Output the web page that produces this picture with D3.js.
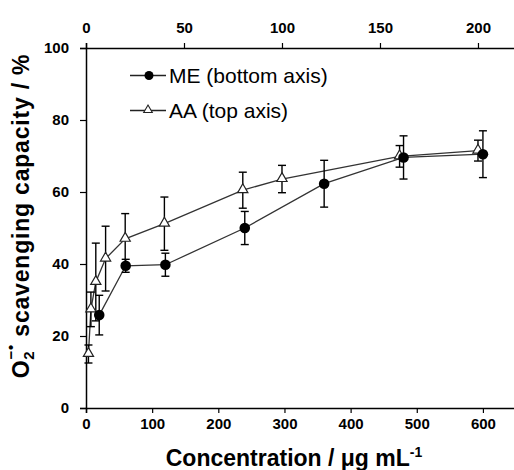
<!DOCTYPE html>
<html>
<head>
<meta charset="utf-8">
<script src="https://cdn.jsdelivr.net/npm/d3@7"></script>
<style>
  body { margin: 0; background: #fff; }
  svg { display: block; font-family: "Liberation Sans", Arial, sans-serif; }
</style>
</head>
<body>
<div id="chart"></div>
<script>
// ME (bottom axis, µg/mL)
const meConc = [20, 60, 120, 240, 360, 480, 600]
const meVal  = [25.8, 39.5, 39.8, 50.0, 62.3, 69.6, 70.5]
const meErr  = [5.5, 1.8, 3.2, 4.6, 6.5, 6.0, 6.5]

// AA (top axis)
const aaConc = [1.25, 2.5, 5, 10, 20, 40, 80, 100, 160, 200]
const aaVal  = [15.0, 27.4, 35.0, 41.5, 47.0, 51.2, 60.5, 63.6, 69.9, 71.5]
const aaErr  = [2.5, 4.8, 10.8, 9.0, 7.0, 7.4, 5.0, 3.8, 3.0, 2.9]

const bottomTicks = [0, 100, 200, 300, 400, 500, 600]
const topTicks = [0, 50, 100, 150, 200]
const yTicks = [0, 20, 40, 60, 80, 100]

const width = 514, height = 470
const mLeft = 86, mRight = 516, mTop = 48, mBottom = 408

const svg = d3.select('#chart').append('svg')
  .attr('width', width)
  .attr('height', height)

const xB = d3.scaleLinear().domain([0, 650]).range([mLeft, mRight])
const xT = d3.scaleLinear().domain([0, 219.4]).range([mLeft, mRight])
const y = d3.scaleLinear().domain([0, 100]).range([mBottom, mTop])

// axes
const axB = svg.append('g').attr('transform', `translate(0,${mBottom})`)
  .call(d3.axisBottom(xB).tickValues(bottomTicks).tickSizeOuter(0).tickSize(5).tickPadding(5))
const axT = svg.append('g').attr('transform', `translate(0,${mTop})`)
  .call(d3.axisTop(xT).tickValues(topTicks).tickSizeOuter(0).tickSize(5).tickPadding(10))
const axL = svg.append('g').attr('transform', `translate(${mLeft},0)`)
  .call(d3.axisLeft(y).tickValues(yTicks).tickSizeOuter(0).tickSize(6).tickPadding(11))

;[axB, axT, axL].forEach(g => {
  g.selectAll('path.domain').attr('stroke', '#000').attr('stroke-width', 1.5)
  g.selectAll('.tick line').attr('stroke', '#000').attr('stroke-width', 1.2)
  g.selectAll('.tick text')
    .attr('fill', '#000')
    .style('font-size', '15px')
    .style('font-weight', 'bold')
    .style('font-family', '"Liberation Sans", Arial, sans-serif')
})

// lines
const lineB = d3.line().x((d, i) => xB(meConc[i])).y(d => y(d))
const lineT = d3.line().x((d, i) => xT(aaConc[i])).y(d => y(d))

svg.append('path').attr('d', lineT(aaVal))
  .attr('fill', 'none').attr('stroke', '#333').attr('stroke-width', 1.3)
svg.append('path').attr('d', lineB(meVal))
  .attr('fill', 'none').attr('stroke', '#333').attr('stroke-width', 1.3)

// error bars
function errBars(xs, vals, errs, xScale) {
  const g = svg.append('g').attr('stroke', '#000').attr('stroke-width', 1.4)
  vals.forEach((v, i) => {
    const cx = xScale(xs[i])
    const y1 = y(v + errs[i]), y2 = y(v - errs[i])
    g.append('line').attr('x1', cx).attr('x2', cx).attr('y1', y1).attr('y2', y2)
    g.append('line').attr('x1', cx - 4).attr('x2', cx + 4).attr('y1', y1).attr('y2', y1)
    g.append('line').attr('x1', cx - 4).attr('x2', cx + 4).attr('y1', y2).attr('y2', y2)
  })
}
errBars(aaConc, aaVal, aaErr, xT)
errBars(meConc, meVal, meErr, xB)

// markers
const tri = d3.symbol().type(d3.symbolTriangle).size(45)
svg.append('g').selectAll('path').data(aaVal).join('path')
  .attr('d', tri)
  .attr('transform', (d, i) => `translate(${xT(aaConc[i])},${y(d) - 0.5})`)
  .attr('fill', '#fff').attr('stroke', '#222').attr('stroke-width', 1.2)

svg.append('g').selectAll('circle').data(meVal).join('circle')
  .attr('cx', (d, i) => xB(meConc[i]))
  .attr('cy', d => y(d))
  .attr('r', 5.3)
  .attr('fill', '#000')

// legend
const leg = svg.append('g')
const triSmall = d3.symbol().type(d3.symbolTriangle).size(32)
const legItems = [
  { label: 'ME (bottom axis)', yy: 75.5, kind: 'circle' },
  { label: 'AA (top axis)', yy: 110.5, kind: 'tri' }
]
legItems.forEach(it => {
  leg.append('line').attr('x1', 130).attr('x2', 166).attr('y1', it.yy).attr('y2', it.yy)
    .attr('stroke', '#222').attr('stroke-width', 1.3)
  if (it.kind === 'circle') {
    leg.append('circle').attr('cx', 149).attr('cy', it.yy).attr('r', 4.5).attr('fill', '#000')
  } else {
    leg.append('path').attr('d', triSmall).attr('transform', `translate(148,${it.yy - 0.5})`)
      .attr('fill', '#fff').attr('stroke', '#222').attr('stroke-width', 1.1)
  }
  leg.append('text').attr('x', 169).attr('y', it.yy).attr('dy', '0.36em')
    .style('font-size', '21px').attr('fill', '#000').text(it.label)
})

// x title
const xt = svg.append('text')
  .attr('x', 294).attr('y', 466)
  .attr('text-anchor', 'middle')
  .style('font-size', '23px').style('font-weight', 'bold')
xt.append('tspan').text('Concentration / μg mL')
xt.append('tspan').attr('dy', -9).style('font-size', '14px').text('-1')

// y title
const yt = svg.append('text')
  .attr('transform', 'translate(29,216) rotate(-90)')
  .attr('text-anchor', 'middle')
  .style('font-size', '23px').style('font-weight', 'bold')
  .style('letter-spacing', '0.8px')
yt.append('tspan').text('O')
yt.append('tspan').attr('dy', 5).style('font-size', '15px').text('2')
yt.append('tspan').attr('dx', -9).attr('dy', -18).style('font-size', '15px').text('−•')
yt.append('tspan').attr('dy', 13).text(' scavenging capacity / %')
</script>
</body>
</html>
